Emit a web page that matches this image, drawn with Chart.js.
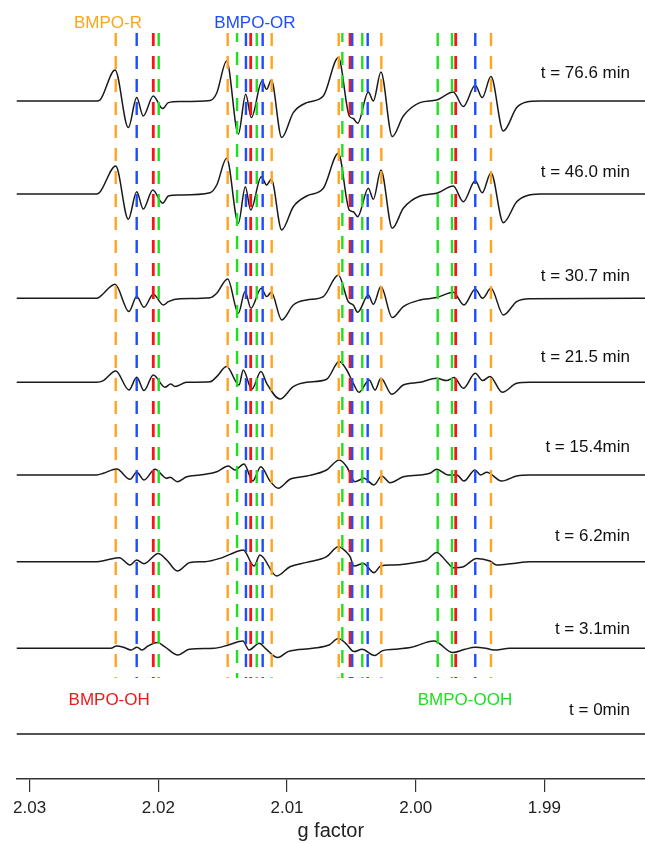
<!DOCTYPE html>
<html>
<head>
<meta charset="utf-8">
<title>EPR spectra - g factor</title>
<script src="https://cdn.jsdelivr.net/npm/chart.js@4.4.1/dist/chart.umd.min.js"></script>
<style>
  html, body { margin: 0; padding: 0; background: #fff; }
  #wrap { width: 645px; height: 843px; position: relative; }
</style>
</head>
<body>
<div id="wrap"><canvas id="epr"></canvas></div>
<script>
// --- axis range (g factor, plotted reversed) ---
const G_MAX = 2.03102;
const G_MIN = 1.98218;

// --- spectra: g positions and signal amplitudes (a.u.) ---
const timeLabels = ['t = 76.6 min', 't = 46.0 min', 't = 30.7 min', 't = 21.5 min',
                    't = 15.4min', 't = 6.2min', 't = 3.1min', 't = 0min'];
// vertical offset of each trace (stacked plot)
const offsets = [678, 585, 480.7, 396.7, 304, 217.3, 130.7, 45];

const g766 = [2.03102, 2.02479, 2.02453, 2.02336, 2.02233, 2.02168, 2.02117, 2.02039, 2.01966, 2.01922, 2.01831, 2.01598, 2.01546, 2.01469, 2.01378, 2.01321, 2.01277, 2.01194, 2.01158, 2.01122, 2.01041, 2.00951, 2.00847, 2.00718, 2.00601, 2.00516, 2.00485, 2.00451, 2.00368, 2.00329, 2.00270, 2.00182, 2.00096, 1.99967, 1.99837, 1.99708, 1.99630, 1.99537, 1.99483, 1.99415, 1.99319, 1.99215, 1.99138, 1.99034, 1.98218];
const a766 = [0, 0, 1, 31, -26.6, 3.4, -15, 5, -7.6, -1.6, -0.5, 0.6, 8, 40, -33, 6.7, -16.6, 20, 11.7, 21, -36.6, -11.6, -1.6, 5, 43.4, -15, -17.5, -22.3, 9, 0, 29, -35.6, -15, -1.6, 1, 9, -5.6, 15.7, 3.4, 24.4, -30, -6.6, -1, 0, 0];

const g460 = [2.03102, 2.02479, 2.02453, 2.02331, 2.02233, 2.02168, 2.02117, 2.02043, 2.01966, 2.01922, 2.01831, 2.01598, 2.01546, 2.01469, 2.01378, 2.01324, 2.01282, 2.01200, 2.01158, 2.01122, 2.01041, 2.00951, 2.00847, 2.00718, 2.00601, 2.00516, 2.00485, 2.00451, 2.00368, 2.00329, 2.00270, 2.00182, 2.00096, 1.99967, 1.99837, 1.99708, 1.99630, 1.99537, 1.99483, 1.99415, 1.99319, 1.99215, 1.99138, 1.99034, 1.98218];
const a460 = [0, 0, 2, 28, -25.3, 2.3, -15, 4, -9.3, -2, -1, 1.3, 9, 35.7, -29.3, 7.3, -16, 17.3, 9, 14.7, -36, -12.7, -2, 5.7, 40.7, -16, -17.7, -22.7, 5.7, -5.3, 24, -34.3, -14.3, -2, 0.7, 8, -7.7, 13.3, 1.3, 21.3, -28.7, -7.7, -1.7, 0, 0];

const g307 = [2.03102, 2.02479, 2.02453, 2.02336, 2.02228, 2.02168, 2.02111, 2.02039, 2.01961, 2.01922, 2.01831, 2.01598, 2.01546, 2.01461, 2.01378, 2.01326, 2.01280, 2.01200, 2.01158, 2.01122, 2.01041, 2.00951, 2.00847, 2.00718, 2.00601, 2.00524, 2.00485, 2.00451, 2.00368, 2.00329, 2.00270, 2.00182, 2.00096, 1.99967, 1.99837, 1.99708, 1.99625, 1.99537, 1.99480, 1.99415, 1.99319, 1.99215, 1.99112, 1.98218];
const a307 = [0, 0, 1.7, 14, -13.3, 1.7, -9, 4, -6.7, -3.3, -0.5, 0.5, 5, 19.3, -15, 6.7, -10, 10, 1.7, 6, -21.7, -6.7, -1.7, 1.7, 23.3, -3.3, -6.7, -14, 3.3, -6, 11.7, -19.3, -8.3, -1.7, 0.7, 6, -6.7, 9, 0, 10, -16.7, -3.3, -0.5, 0];

const g215 = [2.03102, 2.02479, 2.02427, 2.02331, 2.02228, 2.02168, 2.02111, 2.02039, 2.01948, 2.01904, 2.01870, 2.01779, 2.01598, 2.01546, 2.01469, 2.01373, 2.01340, 2.01274, 2.01202, 2.01158, 2.01054, 2.00951, 2.00847, 2.00692, 2.00594, 2.00536, 2.00485, 2.00441, 2.00361, 2.00316, 2.00270, 2.00186, 2.00096, 1.99967, 1.99837, 1.99759, 1.99702, 1.99630, 1.99537, 1.99480, 1.99423, 1.99327, 1.99215, 1.99112, 1.98218];
const a215 = [0, 0, 1.7, 11.3, -7.7, 5, -8.3, 7.3, -5, -1.7, -4.3, 0, 0.5, 5.7, 15.7, -2.7, 12.3, -7, 10.7, -1, -16.7, -4.3, 0, 3, 20.7, 12.3, -1, -10, 2.3, -7.7, 4, -12, -2.7, 0, 4, 1.7, 4.7, -6, 9, 1.7, 5.7, -10, -1, 0, 0];

const g154 = [2.03102, 2.02479, 2.02427, 2.02323, 2.02220, 2.02168, 2.02111, 2.02026, 2.01935, 2.01909, 2.01852, 2.01779, 2.01676, 2.01546, 2.01456, 2.01404, 2.01334, 2.01266, 2.01204, 2.01132, 2.01068, 2.00977, 2.00847, 2.00692, 2.00594, 2.00536, 2.00472, 2.00402, 2.00324, 2.00264, 2.00200, 2.00096, 1.99967, 1.99889, 1.99837, 1.99747, 1.99681, 1.99625, 1.99539, 1.99495, 1.99448, 1.99332, 1.99215, 1.99112, 1.98218];
const a154 = [0, 0, 1.7, 6, -4.3, 2.7, -5, 5.7, -3.3, -2.3, -6.7, -1.7, 0, 3.3, 9, 5, 11, -6, 8.3, -6, -13.3, -4.3, -1, 5, 15, 8.3, -6.7, -3.3, -10, -1, -7.7, -1.7, 0, 1.7, 5.7, 0, 0, -6, 5, 0, 2.7, -6, -1, 0, 0];

const g62 = [2.03102, 2.02479, 2.02401, 2.02303, 2.02220, 2.02168, 2.02111, 2.02000, 2.01935, 2.01852, 2.01754, 2.01637, 2.01521, 2.01443, 2.01340, 2.01256, 2.01210, 2.01080, 2.00977, 2.00847, 2.00692, 2.00601, 2.00541, 2.00510, 2.00479, 2.00407, 2.00324, 2.00272, 2.00174, 1.99967, 1.99915, 1.99837, 1.99759, 1.99708, 1.99630, 1.99526, 1.99423, 1.99371, 1.99242, 1.99112, 1.98218];
const a62 = [0, 0, 1.7, 4, -3.3, 1.7, -2, 8.3, 1.7, -9.3, -0.7, 0, 3.3, 7.3, 11.7, -4.3, 6.7, -14.3, -5, -0.7, 5, 15, 10, 5, -4.3, -1.7, -11, -4.3, -3.3, 0, 1.7, 9.3, 0, -6, -5, 3.3, 0.7, -3.3, -1.7, 0, 0];

const g31 = [2.03102, 2.02368, 2.02325, 2.02270, 2.02212, 2.02165, 2.02127, 2.02080, 2.02005, 2.01951, 2.01848, 2.01759, 2.01567, 2.01455, 2.01343, 2.01295, 2.01215, 2.01168, 2.01071, 2.00992, 2.00800, 2.00674, 2.00601, 2.00544, 2.00479, 2.00417, 2.00320, 2.00256, 2.00161, 2.00033, 1.99858, 1.99712, 1.99617, 1.99537, 1.99457, 1.99393, 1.99267, 1.98218];
const a31 = [0, 0, 2.3, 1, -1.7, 1, -1.7, 2.3, 5.7, 1.7, -6.7, -1, 0, 3.3, 7.3, -1.7, 5, 0, -9.3, -3.3, 0, 3.3, 9.7, 5, -3.3, -1, -7.3, -2.3, -1, 1, 7.3, -4.3, -1, 1, 0, -1.7, 0, 0];

const g0 = [2.03102, 1.98218];
const a0 = [0, 0];

const spectraG = [g766, g460, g307, g215, g154, g62, g31, g0];
const spectraA = [a766, a460, a307, a215, a154, a62, a31, a0];

// --- hyperfine line markers (g) for each spin adduct ---
const linesR   = [2.02331, 2.01461, 2.01119, 2.00598, 2.00267, 1.99415];           // BMPO-R
const linesOR  = [2.02168, 2.01319, 2.01189, 2.00493, 2.00373, 1.99537];           // BMPO-OR
const linesOH  = [2.02039, 2.01282, 2.00510, 1.99689];                             // BMPO-OH
const linesOOH = [2.01997, 2.01388, 2.01235, 2.00570, 2.00415, 1.99829, 1.99718];  // BMPO-OOH
const markerTop = 746;
const markerBottom = 101;

const colors = {
    R: '#FFA41C',
    OR: '#1C4DFF',
    OH: '#F21818',
    OOH: '#1EE01E',
    trace: '#1a1a1a'
};

// how far above its baseline each time label sits
const labelLift = [28, 22, 22, 25, 28, 25, 19, 24];

function markerDatasets(list, color, width, shifted) {
    return list.map((g, i) => ({
        data: [{x: g, y: markerTop}, {x: g, y: markerBottom}],
        borderColor: color,
        borderWidth: width,
        borderDash: [13, 10],
        borderDashOffset: shifted && shifted.includes(i) ? 4 : 0,
        pointRadius: 0,
        order: 0
    }));
}

const traceDatasets = spectraG.map((gs, k) => ({
    data: gs.map((g, i) => ({x: g, y: offsets[k] + spectraA[k][i]})),
    borderColor: colors.trace,
    borderWidth: 1.5,
    cubicInterpolationMode: 'monotone',
    pointRadius: 0,
    order: 1
}));

const datasets = [
    ...markerDatasets(linesR, colors.R, 2.4),
    ...markerDatasets(linesOR, colors.OR, 2.4),
    ...markerDatasets(linesOH, colors.OH, 2.8),
    ...markerDatasets(linesOOH, colors.OOH, 2.4, [1, 3]),
    ...traceDatasets
];

// text annotations: time stamps and adduct names
const labelsPlugin = {
    id: 'eprLabels',
    afterDatasetsDraw(chart) {
        const {ctx, chartArea, scales: {x, y}} = chart;
        ctx.save();
        ctx.font = '17px "Liberation Sans", Arial, sans-serif';
        ctx.textBaseline = 'middle';
        ctx.textAlign = 'right';
        ctx.fillStyle = '#111';
        timeLabels.forEach((txt, i) => {
            ctx.fillText(txt, chartArea.right - 15, y.getPixelForValue(offsets[i] + labelLift[i]));
        });
        ctx.textAlign = 'center';
        const species = [
            ['BMPO-R', colors.R, 2.02391, 756],
            ['BMPO-OR', colors.OR, 2.01249, 756],
            ['BMPO-OH', colors.OH, 2.02382, 79],
            ['BMPO-OOH', colors.OOH, 1.99617, 79]
        ];
        species.forEach(([txt, col, g, v]) => {
            ctx.fillStyle = col;
            ctx.fillText(txt, x.getPixelForValue(g), y.getPixelForValue(v));
        });
        ctx.restore();
    }
};

Chart.defaults.font.family = '"Liberation Sans", Arial, sans-serif';

new Chart(document.getElementById('epr'), {
    type: 'line',
    data: { datasets: datasets },
    plugins: [labelsPlugin],
    options: {
        responsive: true,
        maintainAspectRatio: false,
        animation: false,
        devicePixelRatio: 1,
        layout: { padding: { left: 16.5, right: 0, top: 0, bottom: 0 } },
        plugins: {
            legend: { display: false },
            tooltip: { enabled: false }
        },
        scales: {
            x: {
                type: 'linear',
                reverse: true,
                min: G_MIN,
                max: G_MAX,
                afterFit: function(scale) { scale.height = 64; },
                border: { display: true, color: '#333', width: 1.5 },
                grid: { display: true, drawOnChartArea: false, drawTicks: true, tickLength: 13, color: '#333', lineWidth: 1.2 },
                ticks: {
                    stepSize: 0.01,
                    includeBounds: false,
                    autoSkip: false,
                    maxRotation: 0,
                    padding: 6,
                    color: '#222',
                    font: { size: 17 },
                    callback: (v) => Number(v).toFixed(2)
                },
                title: {
                    display: true,
                    text: 'g factor',
                    color: '#222',
                    font: { size: 20 },
                    padding: { top: 0, bottom: 0 }
                }
            },
            y: { display: false, min: 0, max: 779 }
        }
    }
});
</script>
</body>
</html>
